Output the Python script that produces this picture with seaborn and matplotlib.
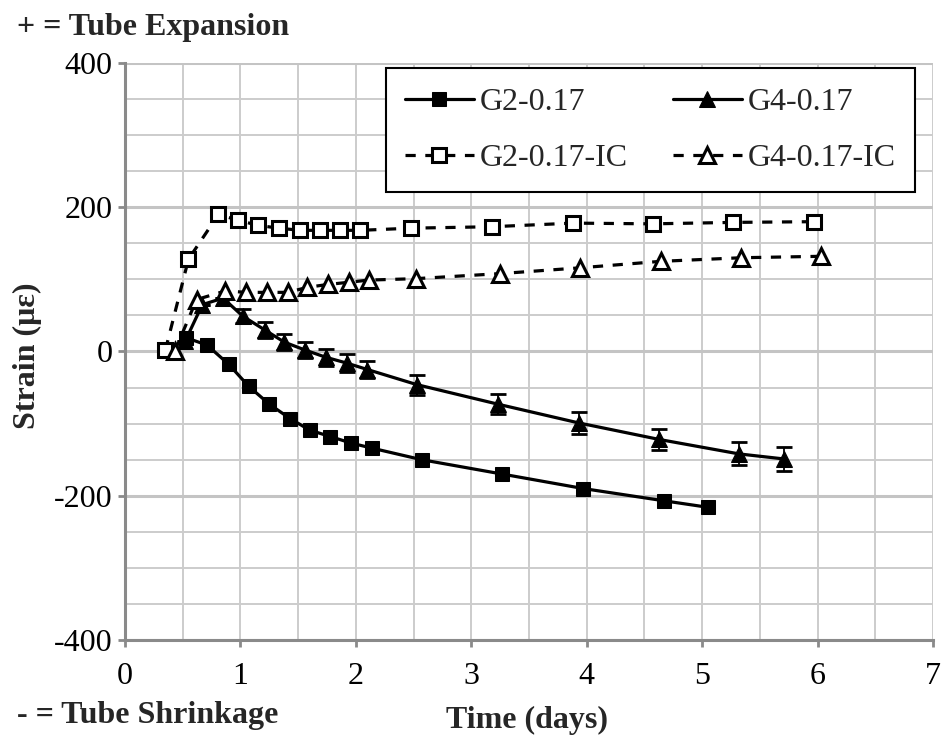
import matplotlib
matplotlib.use("Agg")
import matplotlib.pyplot as plt
import seaborn as sns
import numpy as np
from matplotlib.ticker import MultipleLocator

# ---- data ----
g2_x = [0.53, 0.71, 0.90, 1.07, 1.25, 1.43, 1.60, 1.78, 1.96, 2.14, 2.57, 3.27, 3.97, 4.67, 5.05]
g2_y = [19, 9, -18, -48, -73, -93, -109, -118, -127, -134, -150, -170, -190, -207, -216]

g4_x = [0.52, 0.67, 0.85, 1.02, 1.21, 1.38, 1.56, 1.74, 1.92, 2.10, 2.53, 3.23, 3.93, 4.63, 5.32, 5.71]
g4_y = [14, 65, 74, 49, 30, 13, 2, -8, -16, -25, -46, -73, -99, -122, -142, -149]
g4_err = [0, 0, 0, 10, 11, 11, 11, 12, 12, 12, 14, 14, 15, 15, 16, 16]

g2ic_x = [0.35, 0.55, 0.81, 0.98, 1.15, 1.33, 1.52, 1.69, 1.86, 2.04, 2.48, 3.18, 3.88, 4.57, 5.27, 5.97]
g2ic_y = [2, 128, 190, 182, 175, 171, 168, 168, 168, 168, 171, 173, 178, 177, 179, 180]

g4ic_x = [0.43, 0.62, 0.87, 1.05, 1.23, 1.41, 1.58, 1.76, 1.94, 2.11, 2.52, 3.25, 3.94, 4.64, 5.34, 6.03]
g4ic_y = [0, 72, 84, 82, 82, 82, 89, 93, 96, 99, 101, 108, 116, 125, 130, 132]

labels = ["G2-0.17", "G4-0.17", "G2-0.17-IC", "G4-0.17-IC"]
x_ticks = [0, 1, 2, 3, 4, 5, 6, 7]
y_ticks = [-400, -200, 0, 200, 400]

sns.set_style("white")
plt.rcParams['font.family'] = ['Liberation Serif', 'DejaVu Serif']
plt.rcParams['axes.unicode_minus'] = False
FS = 23

fig = plt.figure(figsize=(9.41, 7.35), dpi=100)
ax = fig.add_axes([125/941, 1 - 640/735, (933-125)/941, (640-63)/735])

lw = 2.3
dash = (0, (3.2, 3.0))
ms_sq = 10
ms_tr = 11

sns.lineplot(x=g2_x, y=g2_y, ax=ax, color='black', linewidth=lw, marker='s',
             markersize=ms_sq, markerfacecolor='black', markeredgecolor='black',
             label=labels[0], sort=False, zorder=5)
sns.lineplot(x=g4_x, y=g4_y, ax=ax, color='black', linewidth=lw, marker='^',
             markersize=ms_tr, markerfacecolor='black', markeredgecolor='black',
             label=labels[1], sort=False, zorder=5)
sns.lineplot(x=g2ic_x, y=g2ic_y, ax=ax, color='black', linewidth=lw, linestyle=dash,
             marker='s', markersize=ms_sq, markerfacecolor='white', markeredgecolor='black',
             markeredgewidth=2.2, label=labels[2], sort=False, zorder=5)
sns.lineplot(x=g4ic_x, y=g4ic_y, ax=ax, color='black', linewidth=lw, linestyle=dash,
             marker='^', markersize=ms_tr, markerfacecolor='white', markeredgecolor='black',
             markeredgewidth=2.2, label=labels[3], sort=False, zorder=5)

ax.errorbar(g4_x, g4_y, yerr=g4_err, fmt='none', ecolor='black', elinewidth=1.3,
            capsize=6, capthick=2, zorder=4)

ax.set_xlim(0, 7)
ax.set_ylim(-400, 400)
ax.set_xticks(x_ticks)
ax.set_yticks(y_ticks)
ax.xaxis.set_minor_locator(MultipleLocator(0.5))
ax.yaxis.set_minor_locator(MultipleLocator(50))

ax.grid(True, which='major', axis='y', color='#c4c4c4', linewidth=2.2)
ax.grid(True, which='minor', axis='y', color='#cccccc', linewidth=1.4)
ax.grid(True, which='both', axis='x', color='#cccccc', linewidth=1.4)
ax.set_axisbelow(True)

for s in ['top', 'right']:
    ax.spines[s].set_visible(False)
for s in ['left', 'bottom']:
    ax.spines[s].set_color('#8a8a8a')
    ax.spines[s].set_linewidth(2.2)
    ax.spines[s].set_zorder(3)

ax.tick_params(axis='both', which='major', direction='out', length=5, width=2,
               color='#8a8a8a', labelsize=FS, labelcolor='black', left=True, bottom=True)
ax.tick_params(axis='x', which='major', pad=11)
ax.tick_params(axis='y', which='major', pad=4)
ax.tick_params(axis='both', which='minor', length=0)

ax.set_ylabel("")
ax.set_xlabel("")
fig.text(27/941, 1 - 356/735, "Strain (με)", fontsize=FS, fontweight='bold',
         rotation=90, ha='center', va='center')
fig.text(527/941, 1 - 720/735, "Time (days)", fontsize=FS, fontweight='bold',
         ha='center', va='center')
fig.text(17/941, 1 - 28/735, "+ = Tube Expansion", fontsize=FS, fontweight='bold',
         ha='left', va='center')
fig.text(17/941, 1 - 715/735, "- = Tube Shrinkage", fontsize=FS, fontweight='bold',
         ha='left', va='center')

handles, lbls = ax.get_legend_handles_labels()
order = [0, 2, 1, 3]
leg = ax.legend([handles[i] for i in order], [lbls[i] for i in order], ncol=2,
                loc='upper right', bbox_to_anchor=(0.978, 0.991), fontsize=FS,
                frameon=True, fancybox=False, edgecolor='black', framealpha=1,
                handlelength=2.15, handletextpad=0.2, columnspacing=1.4,
                labelspacing=0.85, borderpad=0.6, borderaxespad=0)
leg.get_frame().set_linewidth(1.5)
leg.set_zorder(10)

fig.savefig("out.png", dpi=100)
